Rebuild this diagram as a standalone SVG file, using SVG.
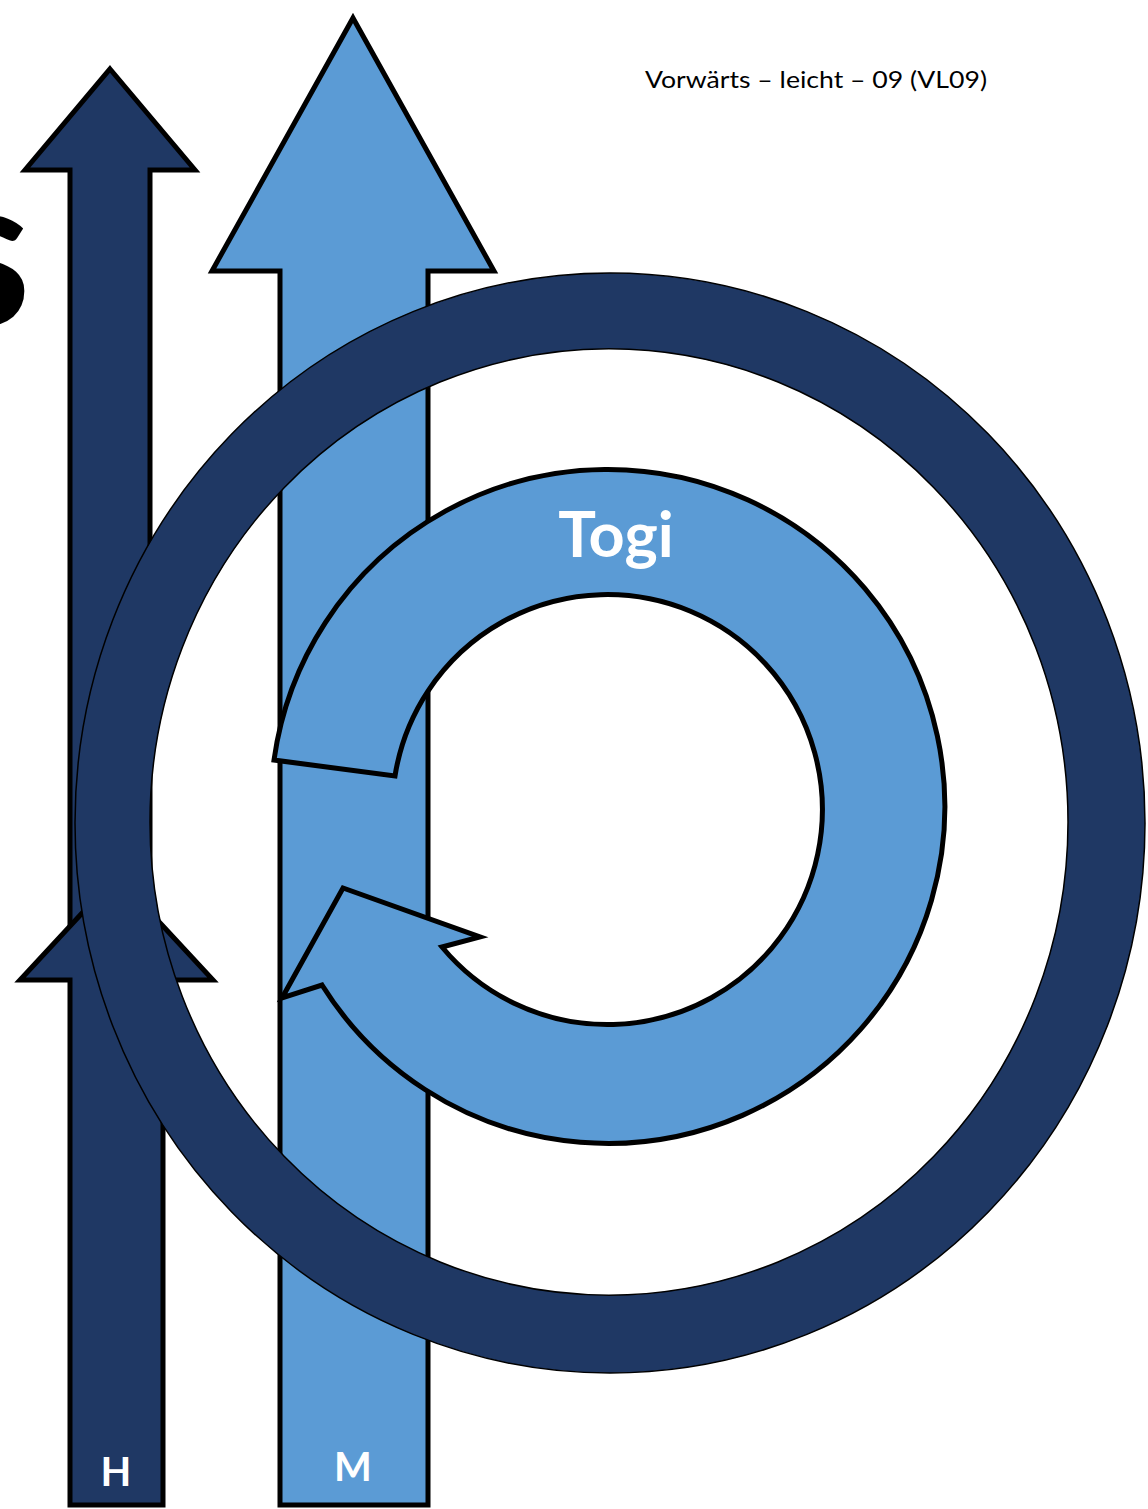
<svg xmlns="http://www.w3.org/2000/svg" width="1148" height="1509" viewBox="0 0 1148 1509">
  <style>
    .dark { fill: #1F3864; stroke: #000; stroke-width: 5; stroke-linejoin: miter; }
    .light { fill: #5B9BD5; stroke: #000; stroke-width: 5; stroke-linejoin: miter; }
    .ring { fill: #1F3864; stroke: #000; stroke-width: 1.5; fill-rule: evenodd; }
    .lbl { fill: #FFFFFF; font-family: Lato, "Liberation Sans", sans-serif; font-weight: 700; text-anchor: middle; }
  </style>
  <rect x="0" y="0" width="1148" height="1509" fill="#FFFFFF"/>

  <g id="title-fragment">
    <text x="31" y="325" font-family="Lato, 'Liberation Sans', sans-serif" font-weight="700" font-size="210" text-anchor="end" fill="#000">s</text>
  </g>

  <g id="header">
    <text x="645" y="88" font-family="Lato, 'Liberation Sans', sans-serif" font-size="24" fill="#000" textLength="342" lengthAdjust="spacingAndGlyphs">Vorwärts – leicht – 09 (VL09)</text>
  </g>

  <g id="arrow-H-upper">
    <path class="dark" d="M110,69 L195,170 L150,170 L150,965 L70,965 L70,170 L25,170 Z"/>
  </g>

  <g id="arrow-H">
    <path class="dark" d="M116.5,876 L213,980 L163,980 L163,1505 L70,1505 L70,980 L20,980 Z"/>
    <text class="lbl" x="116" y="1486" font-size="40">H</text>
  </g>

  <g id="arrow-M">
    <path class="light" d="M353,18 L494,271 L428,271 L428,1505 L280,1505 L280,271 L212,271 Z"/>
    <text class="lbl" x="353" y="1481" font-size="40">M</text>
  </g>

  <g id="ring">
    <path class="ring" d="M75,823 A535,550 0 1,1 1145,823 A535,550 0 1,1 75,823 Z M150,822 A459,473 0 1,0 1068,822 A459,473 0 1,0 150,822 Z"/>
  </g>

  <g id="togi">
    <path class="light" d="M274,760 A337,337 0 1,1 322,985 L282,998 L343,888 L480,937 L442,947 A215,215 0 1,0 395,776 Z"/>
    <text class="lbl" x="616" y="557" font-size="63">Togi</text>
  </g>
</svg>
